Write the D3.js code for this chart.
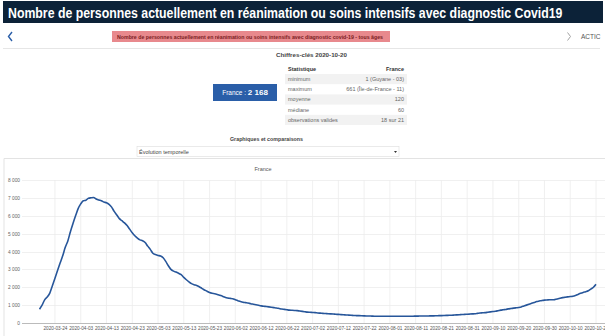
<!DOCTYPE html>
<html><head><meta charset="utf-8">
<script src="https://cdn.jsdelivr.net/npm/d3@7"></script>
<style>
html,body{margin:0;padding:0;background:#fff;overflow:hidden}
svg{display:block;font-family:"Liberation Sans",Arial,sans-serif}
</style></head><body>
<svg id="c" width="605" height="336"></svg>
<script>
// ---- data ----
const startDate = "2020-03-18";
const marchValues = [771,1002,1297,1453,1674,2080,2503,2935,3351,3758,4236,4592,5107,5565];
const aprilValues = [5996,6399,6662,6838,6872,6978,7004,7019,6937,6883,6845,6767,6728,6638,6482,6242,6043,5839,5722,5600,5450,5250,5050,4880,4750,4650,4600,4500,4300,4120];
const mayValues = [3900,3830,3780,3750,3650,3450,3200,3000,2900,2850,2780,2700,2550,2420,2300,2200,2140,2100,2030,1940,1850,1780,1700,1660,1640,1600,1550,1500,1440,1400,1380];
const juneValues = [1360,1300,1250,1200,1160,1140,1120,1080,1050,1020,990,960,940,920,900,880,860,840,810,780,760,740,720,710,700,690,670,650,630,610];
const julyValues = [600,590,580,560,550,540,530,520,510,500,490,480,470,460,450,440,430,420,415,410,405,400,395,390,385,380,380,375,375,375,375];
const augustValues = [375,375,375,380,380,380,380,380,380,380,385,385,390,390,395,395,400,400,405,410,415,420,425,430,435,445,455,465,475,480,490];
const septemberValues = [500,510,520,540,560,570,580,600,620,640,660,690,720,740,760,790,810,830,850,870,900,950,1000,1050,1100,1150,1200,1230,1260,1280];
const octoberValues = [1290,1300,1300,1310,1340,1380,1420,1440,1460,1480,1500,1540,1600,1660,1710,1750,1800,1900,2000,2168];
const tickLabels = ["2020-03-24","2020-04-03","2020-04-13","2020-04-23","2020-05-03","2020-05-13","2020-05-23","2020-06-02","2020-06-12","2020-06-22","2020-07-02","2020-07-12","2020-07-22","2020-08-01","2020-08-11","2020-08-21","2020-08-31","2020-09-10","2020-09-20","2020-09-30","2020-10-10","2020-10-20"];
const yTicks = [0,1000,2000,3000,4000,5000,6000,7000,8000];
const statLabels = ["minimum","maximum","moyenne","médiane","observations valides"];
const statValues = ["1 (Guyane - 03)","661 (Île-de-France - 11)","120","60","18 sur 21"];

const values = [].concat(marchValues,aprilValues,mayValues,juneValues,julyValues,augustValues,septemberValues,octoberValues);
const parse = d3.utcParse("%Y-%m-%d");
const t0 = parse(startDate);
const series = values.map((v,i)=>({date:d3.utcDay.offset(t0,i), value:v}));

const svg = d3.select("#c");

// ---- header ----
svg.append("rect").attr("x",3).attr("y",1).attr("width",600).attr("height",22).attr("fill","#0c2238");
const title = svg.append("text").attr("x",0).attr("y",0).attr("fill","#fff").attr("font-weight","bold")
  .attr("font-size",14.5)
  .text("Nombre de personnes actuellement en réanimation ou soins intensifs avec diagnostic Covid19");
const tl = title.node().getComputedTextLength();
title.attr("transform",`translate(8,17.5) scale(${555/tl},1)`);

// nav row
svg.append("path").attr("d","M12,32 L8.5,36.5 L12,41").attr("fill","none").attr("stroke","#2a5ea8").attr("stroke-width",1.4);
svg.append("path").attr("d","M567.5,32.5 L570.5,36.5 L567.5,40.5").attr("fill","none").attr("stroke","#999").attr("stroke-width",0.9);
svg.append("text").attr("x",581).attr("y",39).attr("fill","#555").attr("font-size",6.5).text("ACTIC");
svg.append("rect").attr("x",112).attr("y",31).attr("width",278).attr("height",11).attr("fill","#e8898d");
svg.append("text").attr("x",117).attr("y",38.8).attr("fill","#7a1d22").attr("font-size",5.5).attr("font-weight","bold")
  .attr("textLength",266).attr("lengthAdjust","spacingAndGlyphs")
  .text("Nombre de personnes actuellement en réanimation ou soins intensifs avec diagnostic covid-19 - tous âges");
svg.append("line").attr("x1",3).attr("x2",600).attr("y1",48.5).attr("y2",48.5).attr("stroke","#e6e6e6");

// key figures
svg.append("text").attr("x",276).attr("y",57).attr("fill","#444").attr("font-size",6).attr("font-weight","bold")
  .attr("textLength",71).attr("lengthAdjust","spacingAndGlyphs").text("Chiffres-clés 2020-10-20");
svg.append("rect").attr("x",213).attr("y",84).attr("width",64).attr("height",17).attr("fill","#2a5ea8");
const ft = svg.append("text").attr("x",245).attr("y",95).attr("text-anchor","middle").attr("fill","#fff").attr("font-size",6.5);
ft.append("tspan").text("France : ");
ft.append("tspan").attr("font-weight","bold").attr("font-size",8).text("2 168");

const tx0 = 285, tx1 = 407;
svg.append("text").attr("x",288).attr("y",71).attr("fill","#333").attr("font-size",5.5).attr("font-weight","bold").text("Statistique");
svg.append("text").attr("x",404).attr("y",71).attr("text-anchor","end").attr("fill","#333").attr("font-size",5.5).attr("font-weight","bold").text("France");
statLabels.forEach((s,i)=>{
  const top = 74 + i*10.2;
  if(i%2===0) svg.append("rect").attr("x",tx0).attr("y",top).attr("width",tx1-tx0).attr("height",10.2).attr("fill","#f2f2f2");
  svg.append("text").attr("x",288).attr("y",top+7).attr("fill","#666").attr("font-size",5.5).text(s);
  svg.append("text").attr("x",404).attr("y",top+7).attr("text-anchor","end").attr("fill","#666").attr("font-size",5.5).text(statValues[i]);
});

// comparisons
svg.append("text").attr("x",266.5).attr("y",141).attr("text-anchor","middle").attr("fill","#444").attr("font-size",6).attr("font-weight","bold")
  .attr("textLength",73).attr("lengthAdjust","spacingAndGlyphs").text("Graphiques et comparaisons");
svg.append("rect").attr("x",137).attr("y",146.5).attr("width",262).attr("height",10).attr("fill","#fff").attr("stroke","#ddd").attr("stroke-width",0.6);
svg.append("text").attr("x",139).attr("y",153.5).attr("fill","#444").attr("font-size",5.5).text("Évolution temporelle");
svg.append("path").attr("d","M394,151 L397,151 L395.5,153 Z").attr("fill","#333");

// chart panel
svg.append("path").attr("d","M4,336 L4,158.5 L605,158.5").attr("fill","none").attr("stroke","#e3e3e3");
svg.append("text").attr("x",263).attr("y",170.5).attr("text-anchor","middle").attr("fill","#555").attr("font-size",5.5).text("France");

// ---- chart ----
const x = d3.scaleUtc().domain([t0, series[series.length-1].date]).range([39.5, 596]);
const y = d3.scaleLinear().domain([0,8000]).range([323,180]);
const fmt = v => d3.format(",")(v).replace(/,/g," ");
const tickDates = tickLabels.map(parse);

const g = svg.append("g");
// horizontal grid
g.append("g").selectAll("line").data(yTicks.filter(d=>d>0)).join("line")
  .attr("x1",22).attr("x2",605).attr("y1",d=>Math.round(y(d))+0.5).attr("y2",d=>Math.round(y(d))+0.5)
  .attr("stroke","#ececec").attr("stroke-width",0.8);
// vertical grid
g.append("g").selectAll("line").data(tickDates).join("line")
  .attr("x1",d=>x(d)).attr("x2",d=>x(d)).attr("y1",180).attr("y2",323)
  .attr("stroke","#ececec").attr("stroke-width",0.8);

// y axis
const ya = g.append("g").attr("transform","translate(22,0)")
  .call(d3.axisLeft(y).tickValues(yTicks).tickFormat(fmt).tickSize(0).tickPadding(2));
ya.select(".domain").remove();
ya.selectAll("text").attr("font-size",4.8).attr("fill","#666").attr("font-family","'Liberation Sans',Arial,sans-serif");

// x axis
const xa = g.append("g").attr("transform","translate(0,323.5)")
  .call(d3.axisBottom(x).tickValues(tickDates).tickFormat(d3.utcFormat("%Y-%m-%d")).tickSize(0).tickPadding(3.5));
xa.select(".domain").attr("d","M22,0 H605").attr("stroke","#aaa").attr("stroke-width",0.8);
xa.selectAll("text").attr("font-size",4.8).attr("fill","#555").attr("font-family","'Liberation Sans',Arial,sans-serif")
  .attr("textLength",24).attr("lengthAdjust","spacingAndGlyphs");

// line
g.append("path").datum(series)
  .attr("fill","none").attr("stroke","#27569a").attr("stroke-width",1.6).attr("stroke-linejoin","round")
  .attr("d", d3.line().x(d=>x(d.date)).y(d=>y(d.value)).curve(d3.curveMonotoneX));
</script>
</body></html>
